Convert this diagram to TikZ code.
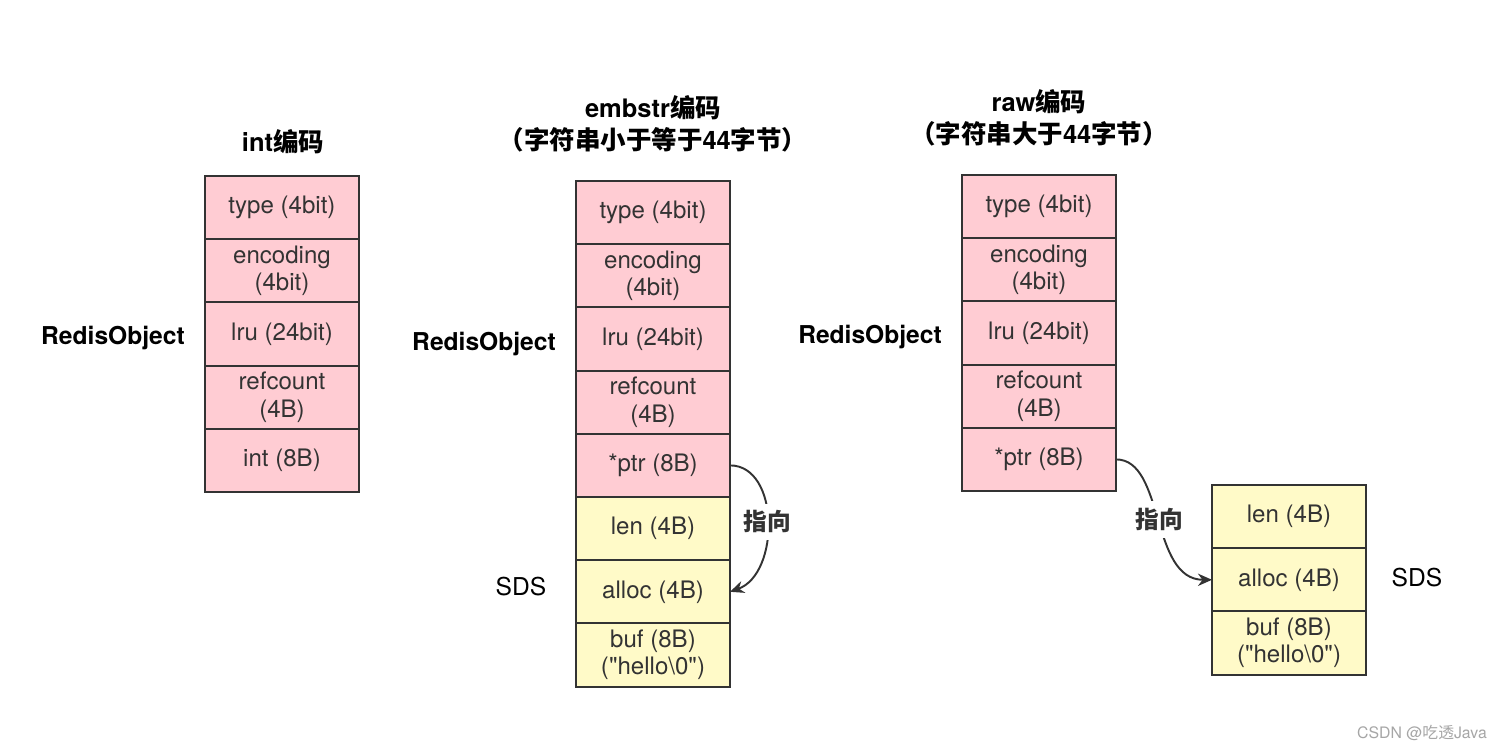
\documentclass[tikz,border=0pt]{standalone}
\usepackage{fontspec}
\setmainfont{TeX Gyre Heros}
\newfontfamily\latinfont{TeX Gyre Heros}
\newfontfamily\cjk{Noto Sans CJK SC}
\usepackage{tikz}
\usetikzlibrary{arrows.meta}
\definecolor{cellpink}{RGB}{255,204,211}
\definecolor{cellyellow}{RGB}{255,250,200}
\definecolor{edge}{RGB}{51,51,51}

\begin{document}
\begin{tikzpicture}[x=0.02cm, y=-0.02cm,
	cell/.style={draw=edge, line width=1.1pt, minimum width=3.08cm, minimum height=1.264cm, inner sep=0pt, outer sep=0pt, align=center, text=edge, font=\latinfont\fontsize{13.7}{15.5}\selectfont},
	pinkcell/.style={cell, fill=cellpink},
	sdscell/.style={cell, fill=cellyellow},
	title/.style={align=center, font=\bfseries\fontsize{14.5}{18}\selectfont},
	side/.style={font=\fontsize{14}{18}\selectfont},
	objlabel/.style={font=\bfseries\fontsize{14}{18}\selectfont},
	pointer/.style={draw=edge, line width=1.1pt, -{Stealth[length=8pt,width=7pt]}},
	hint/.style={fill=white, inner sep=4pt, text=edge, font=\cjk\bfseries\fontsize{13.5}{16}\selectfont}]
	\useasboundingbox (0,0) rectangle (1500,750);
	% int
	\node[title] (inttitle) at (283,142) {int{\cjk 编码}};
	\node[objlabel] (intobj) at (113,338) {RedisObject};
	\foreach \t [count=\i] in {type (4bit), {encoding\\(4bit)}, lru (24bit), {refcount\\(4B)}, int (8B)}
		\node[pinkcell] (int\i) at (282, 144.4+63.2*\i) {\t};
	% embstr
	\node[title] (embtitle) at (653,124) {embstr{\cjk 编码}\\{\cjk （字符串小于等于}44{\cjk 字节）}};
	\node[objlabel] (embobj) at (484,344) {RedisObject};
	\node[side] (embsds) at (521,587) {SDS};
	\foreach \t [count=\i] in {type (4bit), {encoding\\(4bit)}, lru (24bit), {refcount\\(4B)}, *ptr (8B)}
		\node[pinkcell] (emb\i) at (653, 149.4+63.2*\i) {\t};
	\foreach \t [count=\i] in {len (4B), alloc (4B), {buf (8B)\\("hello\textbackslash 0")}}
		\node[sdscell] (embsds\i) at (653, 465.4+63.2*\i) {\t};
	\draw[pointer] (emb5.east) .. controls +(50,0) and +(50,-18) .. (embsds2.east) node[midway, hint] {指向};
	% raw
	\node[title] (rawtitle) at (1039,118) {raw{\cjk 编码}\\{\cjk （字符串大于}44{\cjk 字节）}};
	\node[objlabel] (rawobj) at (870,337) {RedisObject};
	\node[side] (rawsds) at (1417,578) {SDS};
	\foreach \t [count=\i] in {type (4bit), {encoding\\(4bit)}, lru (24bit), {refcount\\(4B)}, *ptr (8B)}
		\node[pinkcell] (raw\i) at (1039, 143.4+63.2*\i) {\t};
	\foreach \t [count=\i] in {len (4B), alloc (4B), {buf (8B)\\("hello\textbackslash 0")}}
		\node[sdscell] (rawsds\i) at (1289, 453.4+63.2*\i) {\t};
	\draw[pointer] (raw5.east) .. controls +(49,0) and +(-62,0) .. (rawsds2.west) node[midway, hint] {指向};
	% watermark
	\node[text=gray!70, font=\fontsize{9}{10}\selectfont] (mark) at (1422,733) {CSDN @{\cjk 吃透}Java};
\end{tikzpicture}
\end{document}
